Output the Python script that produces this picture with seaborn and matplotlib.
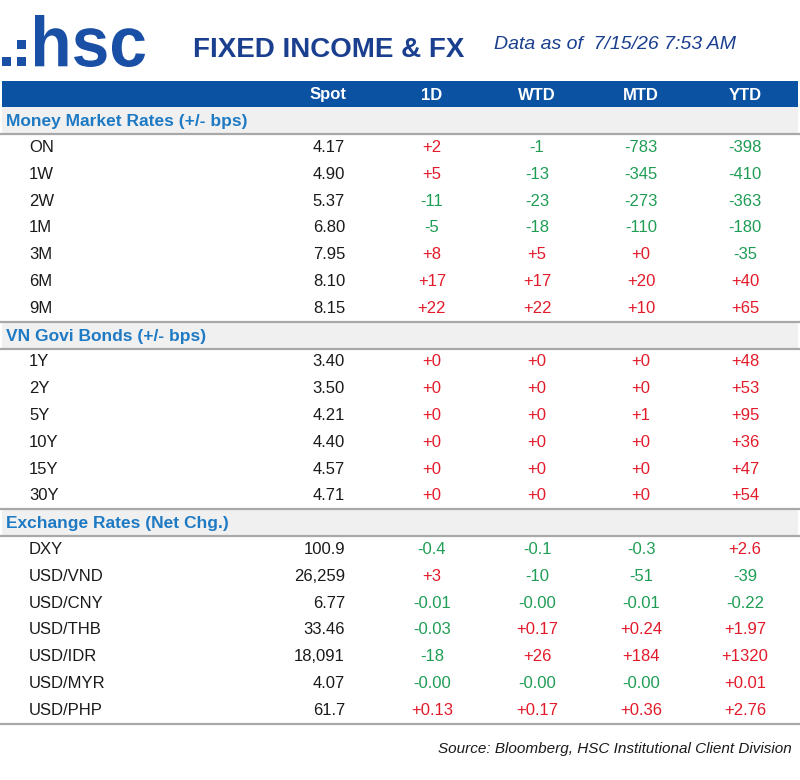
import matplotlib
matplotlib.use("Agg")
import matplotlib.pyplot as plt
from matplotlib.patches import Rectangle, PathPatch
from matplotlib.textpath import TextPath
from matplotlib.font_manager import FontProperties
from matplotlib.transforms import Affine2D
import pandas as pd
import seaborn as sns

# ---- data ----
columns = ["Spot", "1D", "WTD", "MTD", "YTD"]
sections = ["Money Market Rates (+/- bps)", "VN Govi Bonds (+/- bps)", "Exchange Rates (Net Chg.)"]

mm_names = ["ON", "1W", "2W", "1M", "3M", "6M", "9M"]
mm_spot = ["4.17", "4.90", "5.37", "6.80", "7.95", "8.10", "8.15"]
mm_1d = ["+2", "+5", "-11", "-5", "+8", "+17", "+22"]
mm_wtd = ["-1", "-13", "-23", "-18", "+5", "+17", "+22"]
mm_mtd = ["-783", "-345", "-273", "-110", "+0", "+20", "+10"]
mm_ytd = ["-398", "-410", "-363", "-180", "-35", "+40", "+65"]

bond_names = ["1Y", "2Y", "5Y", "10Y", "15Y", "30Y"]
bond_spot = ["3.40", "3.50", "4.21", "4.40", "4.57", "4.71"]
bond_1d = ["+0", "+0", "+0", "+0", "+0", "+0"]
bond_wtd = ["+0", "+0", "+0", "+0", "+0", "+0"]
bond_mtd = ["+0", "+0", "+1", "+0", "+0", "+0"]
bond_ytd = ["+48", "+53", "+95", "+36", "+47", "+54"]

fx_names = ["DXY", "USD/VND", "USD/CNY", "USD/THB", "USD/IDR", "USD/MYR", "USD/PHP"]
fx_spot = ["100.9", "26,259", "6.77", "33.46", "18,091", "4.07", "61.7"]
fx_1d = ["-0.4", "+3", "-0.01", "-0.03", "-18", "-0.00", "+0.13"]
fx_wtd = ["-0.1", "-10", "-0.00", "+0.17", "+26", "-0.00", "+0.17"]
fx_mtd = ["-0.3", "-51", "-0.01", "+0.24", "+184", "-0.00", "+0.36"]
fx_ytd = ["+2.6", "-39", "-0.22", "+1.97", "+1320", "+0.01", "+2.76"]

as_of = "Data as of  7/15/26 7:53 AM"
source = "Source: Bloomberg, HSC Institutional Client Division"

# build one table
blocks = [
    (sections[0], mm_names, [mm_spot, mm_1d, mm_wtd, mm_mtd, mm_ytd]),
    (sections[1], bond_names, [bond_spot, bond_1d, bond_wtd, bond_mtd, bond_ytd]),
    (sections[2], fx_names, [fx_spot, fx_1d, fx_wtd, fx_mtd, fx_ytd]),
]
recs = []
for sec, names, cols in blocks:
    recs.append({"kind": "section", "label": sec})
    for i, n in enumerate(names):
        r = {"kind": "row", "label": n}
        for c, vals in zip(columns, cols):
            r[c] = vals[i]
        recs.append(r)
table = pd.DataFrame(recs)

# ---- style ----
sns.set_theme(style="white")
plt.rcParams["font.family"] = ["Liberation Sans", "DejaVu Sans"]

LOGO = "#1a4fa6"
NAVY = "#1b3f8f"
BAR = "#0c52a3"
SEC = "#1f7ac4"
RED = "#e21b2a"
GREEN = "#1f9d55"
LINE = "#a8a8a8"
BAND = "#f0f0f0"

fig = plt.figure(figsize=(8, 7.8), dpi=100)
ax = fig.add_axes([0, 0, 1, 1])
ax.set_xlim(0, 800)
ax.set_ylim(780, 0)
ax.axis("off")

# logo: square dots + "hsc"
for (x0, y0) in [(2, 57), (17, 57), (17, 40)]:
    ax.add_patch(Rectangle((x0, y0), 9, 9, color=LOGO, lw=0))
tp = TextPath((0, 0), "hsc", size=1, prop=FontProperties(family="Liberation Sans", weight="bold"))
ext = tp.get_extents()
sx = 110 / ext.width
sy = 52 / ext.height
tr = Affine2D().translate(-ext.x0, -ext.y0).scale(sx, -sy).translate(35, 67)
ax.add_patch(PathPatch(tr.transform_path(tp), color=LOGO, lw=0))

ax.text(329, 57, "FIXED INCOME & FX", ha="center", va="baseline",
        fontsize=20, weight="bold", color=NAVY)
ax.text(494, 49, as_of, ha="left", va="baseline", fontsize=14,
        style="italic", color=NAVY)

# table geometry
y0, step = 94, 26.8
col_x = {"Spot": 328, "1D": 432, "WTD": 537, "MTD": 641, "YTD": 745}
spot_right = 345

ax.add_patch(Rectangle((2, y0 - step / 2), 796, step, color=BAR, lw=0))
for c in columns:
    ax.text(col_x[c], y0 + 1, c, ha="center", va="center", fontsize=12,
            weight="bold", color="white")

for i, r in table.iterrows():
    yc = y0 + (i + 1) * step
    top, bot = yc - step / 2, yc + step / 2
    if r["kind"] == "section":
        ax.add_patch(Rectangle((2, top), 796, step, color=BAND, lw=0))
        if i > 0:
            ax.plot([0, 800], [top, top], color=LINE, lw=1.6)
        ax.plot([0, 800], [bot, bot], color=LINE, lw=1.6)
        ax.text(6, yc + 1, r["label"], ha="left", va="center", fontsize=12.5,
                weight="bold", color=SEC)
    else:
        ax.text(29, yc, r["label"], ha="left", va="center", fontsize=12, color="#1a1a1a")
        ax.text(spot_right, yc, r["Spot"], ha="right", va="center", fontsize=12, color="#1a1a1a")
        for c in columns[1:]:
            v = r[c]
            ax.text(col_x[c], yc, v, ha="center", va="center", fontsize=12,
                    color=RED if v.startswith("+") else GREEN)

last = y0 + (len(table) + 0.5) * step
ax.plot([0, 800], [last, last], color=LINE, lw=1.6)

ax.text(792, 749, source, ha="right", va="center", fontsize=11,
        style="italic", color="#1a1a1a")

fig.savefig("out.png", dpi=100)
